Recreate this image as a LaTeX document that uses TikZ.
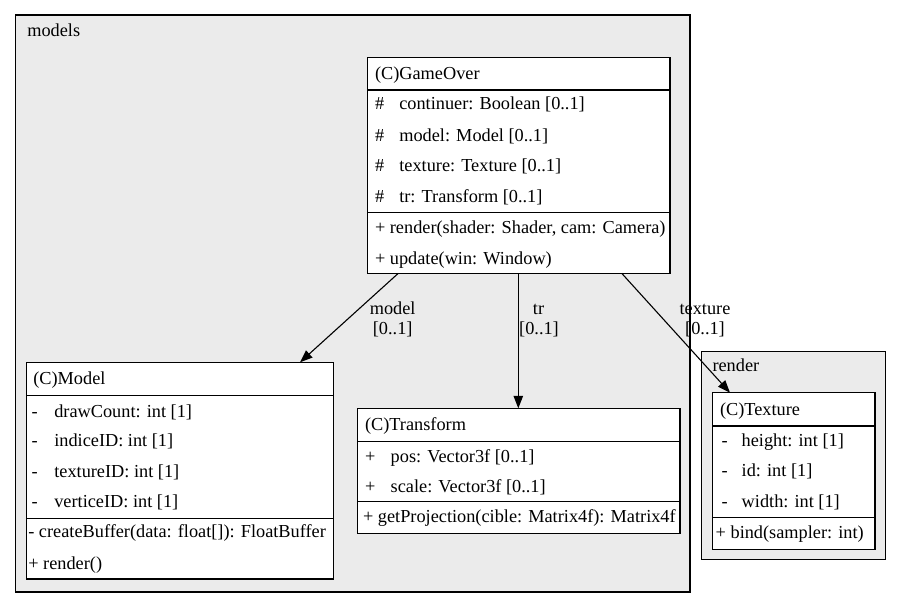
\documentclass[tikz,border=0pt]{standalone}
\usepackage{fontspec}
\setmainfont{Liberation Serif}
\usetikzlibrary{arrows.meta}
\definecolor{clusterfill}{HTML}{EBEBEB}
\tikzset{
  txt/.style={anchor=base west, inner sep=0pt, outer sep=0pt, font=\fontsize{18.3}{22}\selectfont},
  lbl/.style={anchor=base, inner sep=0pt, outer sep=0pt, font=\fontsize{18.3}{22}\selectfont},
  cluster/.style={draw=black, fill=clusterfill, line width=1.1pt},
  classbox/.style={draw=black, fill=white, line width=1.1pt, anchor=north west, inner sep=0pt, outer sep=0pt},
  sep/.style={draw=black, line width=1.1pt},
  edge/.style={draw=black, line width=1.1pt, -{Triangle[length=12.5pt, width=9.5pt]}},
}
\begin{document}
\begin{tikzpicture}[x=1pt, y=-1pt]
\useasboundingbox (0,0) rectangle (901,607);

% package clusters
\path[cluster] (15.5,15) rectangle (690,592);
\node[txt] (models-label) at (27.3,36.7) {models};
\path[cluster] (701.5,351.5) rectangle (885.5,559.5);
\node[txt] (render-label) at (712.5,371.7) {render};

% class GameOver
\node[classbox, minimum width=302.7pt, minimum height=216pt] (gameover) at (367.3,57.3) {};
\draw[sep] ([yshift=-32.7pt]gameover.north west) -- ([yshift=-32.7pt]gameover.north east);
\draw[sep] ([yshift=-155.2pt]gameover.north west) -- ([yshift=-155.2pt]gameover.north east);
\node[txt] (go-h) at (375,80) {(C)GameOver};
\node[txt] (go-a1s) at (375,109.5) {\#};
\node[txt] (go-a1) at (399.3,109.5) {continuer: Boolean [0..1]};
\node[txt] (go-a2s) at (375,141) {\#};
\node[txt] (go-a2) at (399.3,141) {model: Model [0..1]};
\node[txt] (go-a3s) at (375,171.5) {\#};
\node[txt] (go-a3) at (399.3,171.5) {texture: Texture [0..1]};
\node[txt] (go-a4s) at (375,202) {\#};
\node[txt] (go-a4) at (399.3,202) {tr: Transform [0..1]};
\node[txt] (go-m1) at (375,233) {+ render(shader: Shader, cam: Camera)};
\node[txt] (go-m2) at (375,264) {+ update(win: Window)};

% class Model
\node[classbox, minimum width=306.6pt, minimum height=216.7pt] (model) at (26.7,362.3) {};
\draw[sep] ([yshift=-33.4pt]model.north west) -- ([yshift=-33.4pt]model.north east);
\draw[sep] ([yshift=-156pt]model.north west) -- ([yshift=-156pt]model.north east);
\node[txt] (mo-h) at (33.3,384.5) {(C)Model};
\node[txt] (mo-a1s) at (31.7,417) {-};
\node[txt] (mo-a1) at (54.3,417) {drawCount: int [1]};
\node[txt] (mo-a2s) at (31.7,446.8) {-};
\node[txt] (mo-a2) at (54.3,446.8) {indiceID: int [1]};
\node[txt] (mo-a3s) at (31.7,477) {-};
\node[txt] (mo-a3) at (54.3,477) {textureID: int [1]};
\node[txt] (mo-a4s) at (31.7,507.3) {-};
\node[txt] (mo-a4) at (54.3,507.3) {verticeID: int [1]};
\node[txt] (mo-m1) at (28.3,537.6) {- createBuffer(data: float[]): FloatBuffer};
\node[txt] (mo-m2) at (28.3,569.5) {+ render()};

% class Transform
\node[classbox, minimum width=322.7pt, minimum height=125pt] (transform) at (357.3,408.3) {};
\draw[sep] ([yshift=-33.4pt]transform.north west) -- ([yshift=-33.4pt]transform.north east);
\draw[sep] ([yshift=-93.4pt]transform.north west) -- ([yshift=-93.4pt]transform.north east);
\node[txt] (tf-h) at (365,430) {(C)Transform};
\node[txt] (tf-a1s) at (365,462) {+};
\node[txt] (tf-a1) at (390.7,462) {pos: Vector3f [0..1]};
\node[txt] (tf-a2s) at (365,492.2) {+};
\node[txt] (tf-a2) at (390.7,492.2) {scale: Vector3f [0..1]};
\node[txt] (tf-m1) at (363,522) {+ getProjection(cible: Matrix4f): Matrix4f};

% class Texture
\node[classbox, minimum width=162.7pt, minimum height=156.6pt] (texture) at (712.3,392.7) {};
\draw[sep] ([yshift=-33.3pt]texture.north west) -- ([yshift=-33.3pt]texture.north east);
\draw[sep] ([yshift=-124.6pt]texture.north west) -- ([yshift=-124.6pt]texture.north east);
\node[txt] (tx-h) at (720,415) {(C)Texture};
\node[txt] (tx-a1s) at (721.7,446.5) {-};
\node[txt] (tx-a1) at (741.7,446.5) {height: int [1]};
\node[txt] (tx-a2s) at (721.7,476.6) {-};
\node[txt] (tx-a2) at (741.7,476.6) {id: int [1]};
\node[txt] (tx-a3s) at (721.7,507.5) {-};
\node[txt] (tx-a3) at (741.7,507.5) {width: int [1]};
\node[txt] (tx-m1) at (715.7,538.3) {+ bind(sampler: int)};

% associations
\draw[edge] ([xshift=31pt]gameover.south west) -- ([xshift=-33.3pt]model.north east);
\draw[edge] ([xshift=151pt]gameover.south west) -- ([xshift=161pt]transform.north west);
\draw[edge] ([xshift=254.4pt]gameover.south west) -- ([xshift=17.7pt]texture.north west);

% association labels
\node[lbl] (l-model) at (392.7,314.3) {model};
\node[lbl] (l-model-m) at (392.7,334.3) {[0..1]};
\node[lbl] (l-tr) at (538.5,314.3) {tr};
\node[lbl] (l-tr-m) at (539,334.3) {[0..1]};
\node[lbl] (l-tex) at (705,314.3) {texture};
\node[lbl] (l-tex-m) at (705,334.3) {[0..1]};
\end{tikzpicture}
\end{document}
